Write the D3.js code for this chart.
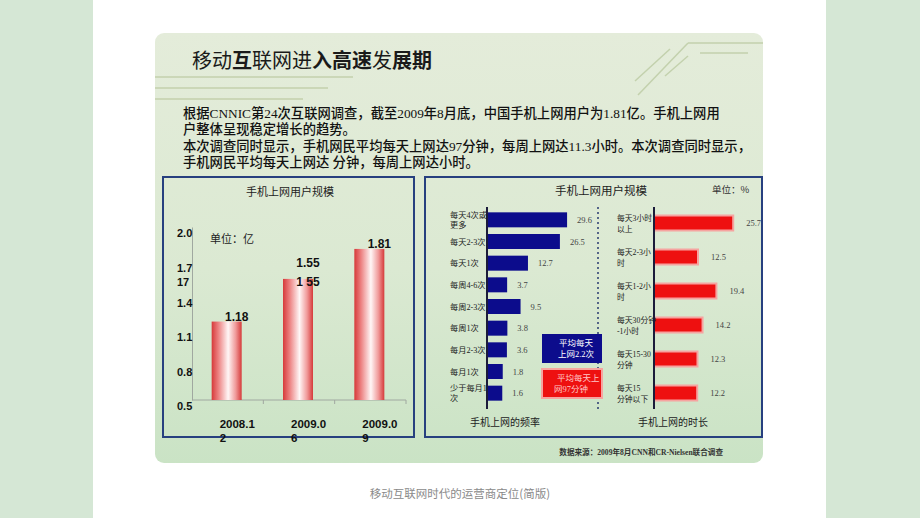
<!DOCTYPE html>
<html><head><meta charset="utf-8">
<script src="https://cdn.jsdelivr.net/npm/d3@7"></script>
<style>
html,body{margin:0;padding:0;background:#fff;}
svg{display:block;}
text{font-family:"Liberation Serif","Noto Sans CJK SC",serif;}
.sans{font-family:"Liberation Sans","Noto Sans CJK SC",sans-serif;}
.cjk{font-family:"Noto Sans CJK SC",sans-serif;}
</style></head>
<body>
<svg id="c" width="920" height="518"></svg>
<script>
// ---------- data ----------
const titleText = "移动互联网进入高速发展期";
const paragraph = [
  "根据CNNIC第24次互联网调查，截至2009年8月底，中国手机上网用户为1.81亿。手机上网用",
  "户整体呈现稳定增长的趋势。",
  "本次调查同时显示，手机网民平均每天上网达97分钟，每周上网达11.3小时。本次调查同时显示，",
  "手机网民平均每天上网达 分钟，每周上网达小时。"
];
const userTitle = "手机上网用户规模";
const userUnit = "单位：亿";
const userCats = ["2008.12", "2009.06", "2009.09"];
const userValues = [1.18, 1.55, 1.81];
const userTicks = [0.5, 0.8, 1.1, 1.4, 1.7, 2.0];
const userExtraTick = "17";
const userExtraValue = "1 55";

const rightTitle = "手机上网用户规模";
const rightUnit = "单位：%";
const freqCats = [["每天4次或", "更多"], ["每天2-3次"], ["每天1次"], ["每周4-6次"], ["每周2-3次"], ["每周1次"], ["每月2-3次"], ["每月1次"], ["少于每月1", "次"]];
const freqValues = [29.6, 26.5, 12.7, 3.7, 9.5, 3.8, 3.6, 1.8, 1.6];
const durCats = [["每天3小时", "以上"], ["每天2-3小", "时"], ["每天1-2小", "时"], ["每天30分钟", "-1小时"], ["每天15-30", "分钟"], ["每天15", "分钟以下"]];
const durValues = [25.7, 12.5, 19.4, 14.2, 12.3, 12.2];
const freqNote = ["平均每天", "上网2.2次"];
const durNote = ["平均每天上", "网97分钟"];
const freqLabel = "手机上网的频率";
const durLabel = "手机上网的时长";
const sourceText = "数据来源：2009年8月CNN和CR-Nielsen联合调查";
const footerText = "移动互联网时代的运营商定位(简版)";

// ---------- drawing ----------
const svg = d3.select("#c");
const defs = svg.append("defs");

const pg = defs.append("linearGradient").attr("id", "panelG").attr("x1", 0).attr("y1", 0).attr("x2", 0).attr("y2", 1);
pg.append("stop").attr("offset", "0%").attr("stop-color", "#e4ecda");
pg.append("stop").attr("offset", "55%").attr("stop-color", "#dbe9d2");
pg.append("stop").attr("offset", "100%").attr("stop-color", "#cae3c5");

const bg = defs.append("linearGradient").attr("id", "barG").attr("x1", 0).attr("y1", 0).attr("x2", 1).attr("y2", 0);
[["0%", "#d63a3a"], ["22%", "#ec8080"], ["55%", "#fff6f6"], ["80%", "#f09a9a"], ["100%", "#d63a3a"]]
  .forEach(s => bg.append("stop").attr("offset", s[0]).attr("stop-color", s[1]));

// side strips
svg.append("rect").attr("x", 0).attr("y", 0).attr("width", 93).attr("height", 518).attr("fill", "#d5e7d5");
svg.append("rect").attr("x", 826).attr("y", 0).attr("width", 94).attr("height", 518).attr("fill", "#d5e7d5");

// panel
svg.append("rect").attr("x", 155).attr("y", 33).attr("width", 608).attr("height", 430).attr("rx", 9)
  .attr("fill", "url(#panelG)");

// decorative lines
const deco = svg.append("g").attr("stroke", "#c3d1ad").attr("stroke-width", 1.5).attr("fill", "none");
[[155, 77, 353, 77], [155, 88, 328, 88], [155, 99, 303, 99],
 [638, 95, 688, 43], [688, 43, 763, 43], [635, 81, 670, 49], [665, 76, 688, 56], [700, 53, 748, 53]]
  .forEach(l => deco.append("line").attr("x1", l[0]).attr("y1", l[1]).attr("x2", l[2]).attr("y2", l[3]));

// title
const tt = svg.append("text").attr("class", "cjk").attr("x", 192).attr("y", 68).attr("font-size", 20).attr("fill", "#1a1a1a");
const boldIdx = new Set([2, 6, 7, 8, 10, 11]);
titleText.split("").forEach((ch, i) => tt.append("tspan").attr("font-weight", boldIdx.has(i) ? 700 : 400).text(ch));

// paragraph
paragraph.forEach((line, i) => {
  svg.append("text").attr("x", 183).attr("y", 118 + i * 16.4).attr("font-size", 13.3)
    .attr("fill", "#111").attr("font-weight", 500).text(line);
});

// ---------- left chart ----------
svg.append("rect").attr("x", 163).attr("y", 177).attr("width", 251).attr("height", 260)
  .attr("fill", "none").attr("stroke", "#27407f").attr("stroke-width", 2);
svg.append("text").attr("class", "cjk").attr("x", 290).attr("y", 196).attr("text-anchor", "middle")
  .attr("font-size", 11).attr("fill", "#222").text(userTitle);
svg.append("text").attr("class", "cjk").attr("x", 210).attr("y", 243).attr("font-size", 11)
  .attr("fill", "#222").text(userUnit);

const yU = d3.scaleLinear().domain([0.5, 2.0]).range([400, 227]);
const xU = d3.scaleBand().domain(userCats).range([192, 406]).padding(0);

const yAxis = svg.append("g").attr("transform", "translate(192,0)")
  .call(d3.axisLeft(yU).tickValues(userTicks).tickSize(0).tickFormat(d3.format(".1f")));
yAxis.select(".domain").attr("stroke", "#a0a8a0").attr("stroke-width", 1);
yAxis.selectAll("text").attr("class", "sans").attr("x", -15).attr("dy", "0.35em")
  .attr("transform", "translate(0,6)").attr("text-anchor", "start")
  .attr("font-size", 11).attr("font-weight", 700).attr("fill", "#111");
svg.append("text").attr("class", "sans").attr("x", 177).attr("y", yU(1.7) + 20 + 4).attr("font-size", 11)
  .attr("font-weight", 700).attr("fill", "#111").text(userExtraTick);

const xAxis = svg.append("g").attr("transform", "translate(0,400)");
xAxis.append("line").attr("x1", xU.range()[0]).attr("x2", xU.range()[1]).attr("stroke", "#a0a8a0");
xAxis.selectAll("line.t").data(userCats).join("line").attr("class", "t")
  .attr("x1", d => xU(d) + xU.bandwidth()).attr("x2", d => xU(d) + xU.bandwidth())
  .attr("y1", 0).attr("y2", 4).attr("stroke", "#a0a8a0");

const barW = 30;
const cx = c => xU(c) + xU.bandwidth() / 2 - 1;
svg.selectAll("rect.ub").data(userCats).join("rect").attr("class", "ub")
  .attr("x", d => cx(d) - barW / 2).attr("width", barW)
  .attr("y", (d, i) => yU(userValues[i])).attr("height", (d, i) => yU(0.5) - yU(userValues[i]))
  .attr("fill", "url(#barG)");
svg.selectAll("text.uv").data(userCats).join("text").attr("class", "uv sans")
  .attr("x", d => cx(d) + 10).attr("y", (d, i) => yU(userValues[i]) - 1)
  .attr("text-anchor", "middle").attr("font-size", 12).attr("font-weight", 700).attr("fill", "#111")
  .text((d, i) => userValues[i].toFixed(2));
svg.selectAll("text.uv").filter((d, i) => i === 1).attr("y", yU(userValues[1]) - 12);
svg.append("text").attr("class", "sans").attr("x", cx(userCats[1]) + 10).attr("y", yU(userValues[1]) + 7)
  .attr("text-anchor", "middle").attr("font-size", 12).attr("font-weight", 700).attr("fill", "#111").text(userExtraValue);

userCats.forEach(c => {
  const t = svg.append("text").attr("class", "sans").attr("font-size", 11.5).attr("font-weight", 700).attr("fill", "#111");
  t.append("tspan").attr("x", cx(c) - 7).attr("y", 428).text(c.slice(0, 6));
  t.append("tspan").attr("x", cx(c) - 7).attr("y", 442).text(c.slice(6));
});

// ---------- right chart ----------
svg.append("rect").attr("x", 425).attr("y", 177).attr("width", 337).attr("height", 260)
  .attr("fill", "none").attr("stroke", "#27407f").attr("stroke-width", 2);
svg.append("text").attr("class", "cjk").attr("x", 601).attr("y", 195).attr("text-anchor", "middle")
  .attr("font-size", 11.5).attr("fill", "#222").text(rightTitle);
svg.append("text").attr("class", "cjk").attr("x", 712).attr("y", 193).attr("font-size", 9.5)
  .attr("fill", "#333").text(rightUnit);

// frequency
const yF = d3.scaleBand().domain(d3.range(freqValues.length)).range([209, 404]);
const xF = d3.scaleLinear().domain([-5, 30]).range([487, 568]);
const bh = 15;
svg.selectAll("rect.fb").data(freqValues).join("rect").attr("class", "fb")
  .attr("x", xF(-5)).attr("y", (d, i) => yF(i) + yF.bandwidth() / 2 - bh / 2)
  .attr("width", d => xF(d) - xF(-5)).attr("height", bh).attr("fill", "#0c0c8c");
svg.selectAll("text.fv").data(freqValues).join("text").attr("class", "fv")
  .attr("x", d => xF(d) + 10).attr("y", (d, i) => yF(i) + yF.bandwidth() / 2 + 3)
  .attr("font-size", 8.5).attr("fill", "#444").text(d => d.toFixed(1));
freqCats.forEach((lines, i) => {
  const c = yF(i) + yF.bandwidth() / 2;
  const t = svg.append("text").attr("font-size", 8.2).attr("fill", "#222");
  lines.forEach((l, j) => t.append("tspan").attr("x", 450)
    .attr("y", c + 3 + (j - (lines.length - 1) / 2) * 10.5).text(l));
});
svg.append("line").attr("x1", xF(-5)).attr("x2", xF(-5)).attr("y1", 207).attr("y2", 409)
  .attr("stroke", "#1b1b3a").attr("stroke-width", 2);

svg.append("line").attr("x1", 598).attr("x2", 598).attr("y1", 207).attr("y2", 410)
  .attr("stroke", "#283a70").attr("stroke-width", 1.5).attr("stroke-dasharray", "2,3");

// duration
const yD = d3.scaleBand().domain(d3.range(durValues.length)).range([206, 410]);
const xD = d3.scaleLinear().domain([-4, 26]).range([654, 734]);
svg.selectAll("rect.db").data(durValues).join("rect").attr("class", "db")
  .attr("x", xD(-4)).attr("y", (d, i) => yD(i) + yD.bandwidth() / 2 - bh / 2)
  .attr("width", d => xD(d) - xD(-4)).attr("height", bh).attr("fill", "#ee1010")
  .attr("stroke", "#f6a3a0").attr("stroke-width", 2);
svg.selectAll("text.dv").data(durValues).join("text").attr("class", "dv")
  .attr("x", d => xD(d) + 13).attr("y", (d, i) => yD(i) + yD.bandwidth() / 2 + 3)
  .attr("font-size", 8.5).attr("fill", "#444").text(d => d.toFixed(1));
durCats.forEach((lines, i) => {
  const c = yD(i) + yD.bandwidth() / 2;
  const t = svg.append("text").attr("font-size", 7.8).attr("fill", "#222");
  lines.forEach((l, j) => t.append("tspan").attr("x", 617)
    .attr("y", c + 3 + (j - (lines.length - 1) / 2) * 11).text(l));
});
svg.append("line").attr("x1", xD(-4)).attr("x2", xD(-4)).attr("y1", 207).attr("y2", 409)
  .attr("stroke", "#1b1b3a").attr("stroke-width", 2);

// notes
svg.append("rect").attr("x", 542).attr("y", 334).attr("width", 60).attr("height", 29).attr("fill", "#0c0c8c");
const n1 = svg.append("text").attr("font-size", 8.5).attr("fill", "#fff").attr("text-anchor", "middle");
freqNote.forEach((l, j) => n1.append("tspan").attr("x", 576).attr("y", 346 + j * 11).text(l));
svg.append("rect").attr("x", 542).attr("y", 369).attr("width", 60).attr("height", 29).attr("fill", "#ee1010")
  .attr("stroke", "#f6a3a0").attr("stroke-width", 2);
const n2 = svg.append("text").attr("font-size", 8.5).attr("fill", "#ffc8c8");
durNote.forEach((l, j) => n2.append("tspan").attr("x", 557 - j * 3).attr("y", 381 + j * 11).text(l));

svg.append("text").attr("class", "cjk").attr("x", 505).attr("y", 426).attr("text-anchor", "middle")
  .attr("font-size", 10).attr("fill", "#222").text(freqLabel);
svg.append("text").attr("class", "cjk").attr("x", 673).attr("y", 426).attr("text-anchor", "middle")
  .attr("font-size", 10).attr("fill", "#222").text(durLabel);

// source & footer
svg.append("text").attr("x", 723).attr("y", 455).attr("text-anchor", "end").attr("font-size", 7.6)
  .attr("fill", "#333").attr("font-weight", 700).text(sourceText);
svg.append("text").attr("class", "cjk").attr("x", 460).attr("y", 498).attr("text-anchor", "middle")
  .attr("font-size", 11.5).attr("fill", "#8a8a8a").text(footerText);
</script>
</body></html>
